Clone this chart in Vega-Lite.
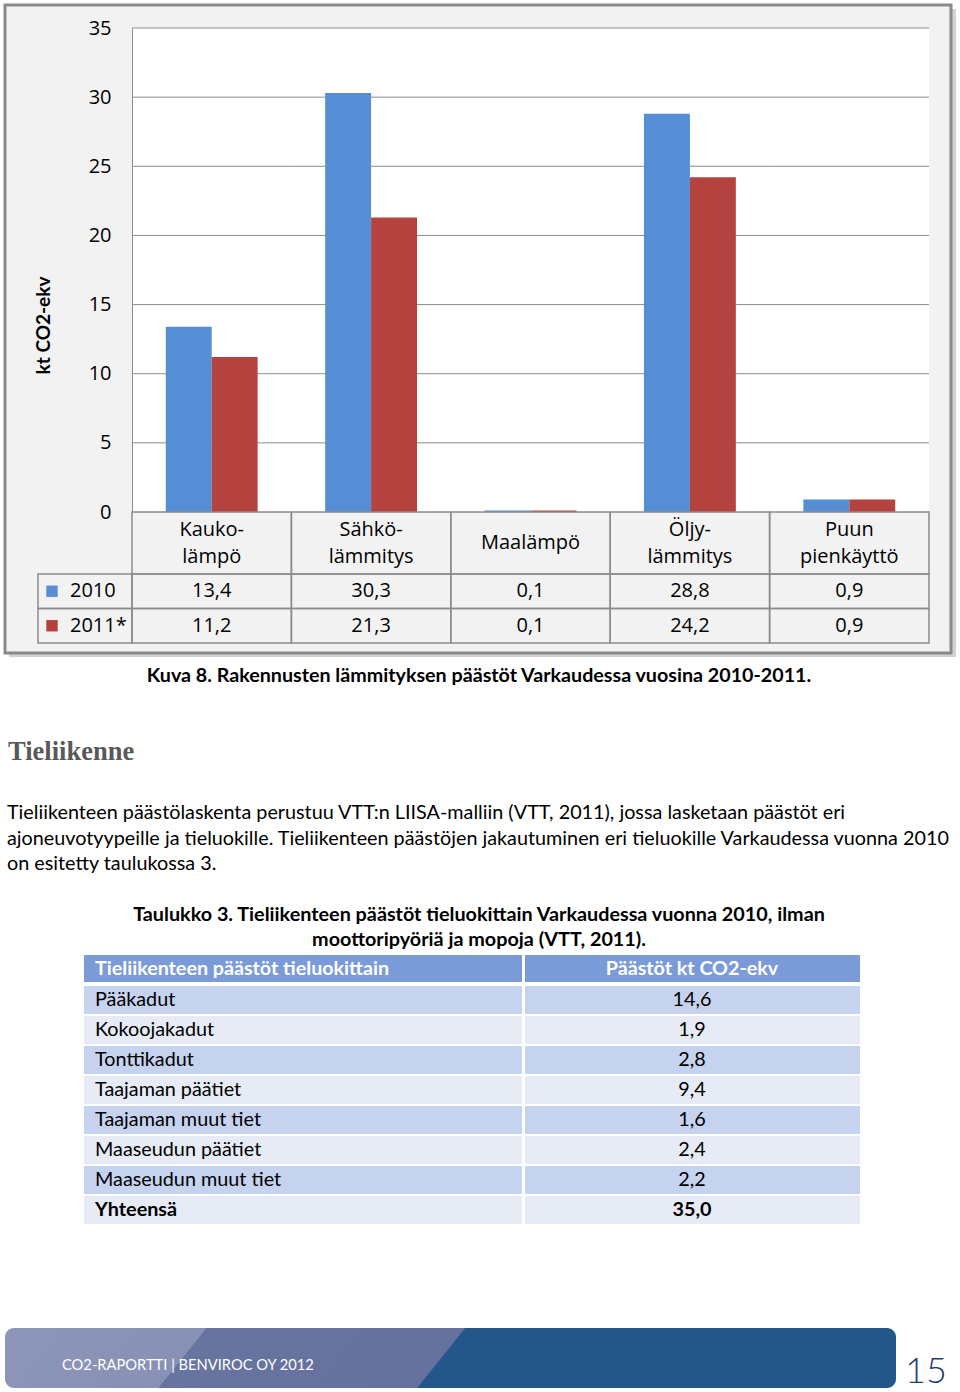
{
  "$schema": "https://vega.github.io/schema/vega-lite/v6.json",
  "width": 960,
  "height": 1392,
  "padding": 0,
  "autosize": {"type": "none"},
  "background": "white",
  "config": {
    "view": {"stroke": null},
    "locale": {"number": {"decimal": ",", "thousands": " ", "grouping": [3], "currency": ["", " €"]}}
  },
  "datasets": {
    "heat": [
      {"cat": "Kauko-\nlämpö", "series": "2010", "value": 13.4},
      {"cat": "Kauko-\nlämpö", "series": "2011*", "value": 11.2},
      {"cat": "Sähkö-\nlämmitys", "series": "2010", "value": 30.3},
      {"cat": "Sähkö-\nlämmitys", "series": "2011*", "value": 21.3},
      {"cat": "Maalämpö", "series": "2010", "value": 0.1},
      {"cat": "Maalämpö", "series": "2011*", "value": 0.1},
      {"cat": "Öljy-\nlämmitys", "series": "2010", "value": 28.8},
      {"cat": "Öljy-\nlämmitys", "series": "2011*", "value": 24.2},
      {"cat": "Puun\npienkäyttö", "series": "2010", "value": 0.9},
      {"cat": "Puun\npienkäyttö", "series": "2011*", "value": 0.9}
    ],
    "series": [{"series": "2010"}, {"series": "2011*"}],
    "roads": [
      {"road": "Pääkadut", "value": 14.6},
      {"road": "Kokoojakadut", "value": 1.9},
      {"road": "Tonttikadut", "value": 2.8},
      {"road": "Taajaman päätiet", "value": 9.4},
      {"road": "Taajaman muut tiet", "value": 1.6},
      {"road": "Maaseudun päätiet", "value": 2.4},
      {"road": "Maaseudun muut tiet", "value": 2.2},
      {"road": "Yhteensä", "value": 35.0}
    ]
  },
  "resolve": {
    "scale": {"x": "independent", "y": "independent", "color": "independent", "xOffset": "independent"},
    "axis": {"x": "independent", "y": "independent"},
    "legend": {"color": "independent"}
  },
  "layer": [
    {
      "data": {"values": [{"box": "chart"}]},
      "mark": {"type": "rect", "fill": "#b4b4b4", "opacity": 0.6},
      "encoding": {
        "x": {"field": "box", "type": "nominal", "axis": null, "scale": {"type": "band", "range": [9, 956], "paddingInner": 0, "paddingOuter": 0}},
        "y": {"field": "box", "type": "nominal", "axis": null, "scale": {"type": "band", "range": [9, 657], "paddingInner": 0, "paddingOuter": 0}}
      }
    },
    {
      "data": {"values": [{"box": "chart"}]},
      "mark": {"type": "rect", "fill": "#f2f2f2", "stroke": "#8a8a8a", "strokeWidth": 3},
      "encoding": {
        "x": {"field": "box", "type": "nominal", "axis": null, "scale": {"type": "band", "range": [5, 951], "paddingInner": 0, "paddingOuter": 0}},
        "y": {"field": "box", "type": "nominal", "axis": null, "scale": {"type": "band", "range": [5, 653], "paddingInner": 0, "paddingOuter": 0}}
      }
    },
    {
      "data": {"name": "heat"},
      "mark": {"type": "rect", "fill": "white"},
      "encoding": {
        "x": {"field": "cat", "type": "nominal", "axis": null, "scale": {"type": "band", "domain": ["Kauko-\nlämpö", "Sähkö-\nlämmitys", "Maalämpö", "Öljy-\nlämmitys", "Puun\npienkäyttö"], "range": [132, 929], "paddingInner": 0, "paddingOuter": 0}},
        "y": {"datum": 0, "type": "quantitative", "axis": null, "scale": {"domain": [0, 35], "range": [512, 28], "nice": false}},
        "y2": {"datum": 35}
      }
    },
    {
      "data": {"values": [{"v": 5}, {"v": 10}, {"v": 15}, {"v": 20}, {"v": 25}, {"v": 30}, {"v": 35}]},
      "mark": {"type": "rule", "stroke": "#8c8c8c", "strokeWidth": 1},
      "encoding": {
        "y": {"field": "v", "type": "quantitative", "axis": null, "scale": {"domain": [0, 35], "range": [512, 28], "nice": false}},
        "x": {"datum": 0, "type": "quantitative", "axis": null, "scale": {"domain": [0, 1], "range": [132, 929]}},
        "x2": {"datum": 1}
      }
    },
    {
      "data": {"name": "heat"},
      "mark": {"type": "bar"},
      "encoding": {
        "x": {"field": "cat", "type": "nominal", "axis": null, "scale": {"type": "band", "domain": ["Kauko-\nlämpö", "Sähkö-\nlämmitys", "Maalämpö", "Öljy-\nlämmitys", "Puun\npienkäyttö"], "range": [132, 929], "paddingInner": 0, "paddingOuter": 0}},
        "xOffset": {"field": "series", "type": "nominal", "scale": {"domain": ["2010", "2011*"], "paddingInner": 0, "paddingOuter": 0.735}},
        "y": {
          "field": "value", "type": "quantitative",
          "scale": {"domain": [0, 35], "range": [512, 28], "nice": false},
          "axis": {
            "orient": "left", "offset": -132, "values": [0, 5, 10, 15, 20, 25, 30, 35], "zindex": 2,
            "ticks": false, "domain": true, "domainColor": "#8c8c8c", "domainWidth": 1, "grid": false,
            "labelPadding": 21, "labelFont": "Open Sans", "labelFontSize": 20, "labelColor": "#000000",
            "title": "kt CO2-ekv", "titleFont": "Lato", "titleFontSize": 19, "titleFontWeight": "bold", "titleColor": "#000000",
            "titleAngle": -90, "titleX": -89, "titleY": 325, "titleAlign": "center", "titleBaseline": "middle"
          }
        },
        "color": {"field": "series", "type": "nominal", "legend": null, "scale": {"domain": ["2010", "2011*"], "range": ["#558ed5", "#b4433f"]}}
      }
    },
    {
      "data": {"name": "heat"},
      "transform": [{"filter": "datum.series === '2010'"}],
      "mark": {"type": "rect", "fillOpacity": 0, "stroke": "#8c8c8c", "strokeWidth": 1.5},
      "encoding": {
        "x": {"field": "cat", "type": "nominal", "axis": null, "scale": {"type": "band", "domain": ["Kauko-\nlämpö", "Sähkö-\nlämmitys", "Maalämpö", "Öljy-\nlämmitys", "Puun\npienkäyttö"], "range": [132, 929], "paddingInner": 0, "paddingOuter": 0}},
        "y": {"datum": 0, "type": "quantitative", "axis": null, "scale": {"domain": [0, 1], "range": [512, 574]}},
        "y2": {"datum": 1}
      }
    },
    {
      "data": {"name": "heat"},
      "mark": {"type": "rect", "fillOpacity": 0, "stroke": "#8c8c8c", "strokeWidth": 1.5},
      "encoding": {
        "x": {"field": "cat", "type": "nominal", "axis": null, "scale": {"type": "band", "domain": ["Kauko-\nlämpö", "Sähkö-\nlämmitys", "Maalämpö", "Öljy-\nlämmitys", "Puun\npienkäyttö"], "range": [132, 929], "paddingInner": 0, "paddingOuter": 0}},
        "y": {"field": "series", "type": "nominal", "axis": null, "scale": {"type": "band", "domain": ["2010", "2011*"], "range": [574, 643], "paddingInner": 0, "paddingOuter": 0}}
      }
    },
    {
      "data": {"name": "series"},
      "mark": {"type": "rect", "fillOpacity": 0, "stroke": "#8c8c8c", "strokeWidth": 1.5},
      "encoding": {
        "x": {"datum": 0, "type": "quantitative", "axis": null, "scale": {"domain": [0, 1], "range": [38, 132]}},
        "x2": {"datum": 1},
        "y": {"field": "series", "type": "nominal", "axis": null, "scale": {"type": "band", "domain": ["2010", "2011*"], "range": [574, 643], "paddingInner": 0, "paddingOuter": 0}}
      }
    },
    {
      "data": {"name": "series"},
      "mark": {"type": "point", "shape": "square", "filled": true, "size": 130, "opacity": 1},
      "encoding": {
        "x": {"datum": 0, "type": "quantitative", "axis": null, "scale": {"domain": [0, 1], "range": [52, 53]}},
        "y": {"field": "series", "type": "nominal", "axis": null, "scale": {"type": "band", "domain": ["2010", "2011*"], "range": [574, 643], "paddingInner": 0, "paddingOuter": 0}},
        "color": {"field": "series", "type": "nominal", "legend": null, "scale": {"domain": ["2010", "2011*"], "range": ["#558ed5", "#b4433f"]}}
      }
    },
    {
      "data": {"name": "series"},
      "mark": {"type": "text", "font": "Open Sans", "fontSize": 20, "align": "left", "baseline": "middle", "color": "#000000"},
      "encoding": {
        "text": {"field": "series"},
        "x": {"datum": 0, "type": "quantitative", "axis": null, "scale": {"domain": [0, 1], "range": [70, 71]}},
        "y": {"field": "series", "type": "nominal", "axis": null, "scale": {"type": "band", "domain": ["2010", "2011*"], "range": [574, 643], "paddingInner": 0, "paddingOuter": 0}}
      }
    },
    {
      "data": {"name": "heat"},
      "mark": {"type": "text", "font": "Open Sans", "fontSize": 20, "align": "center", "baseline": "middle", "color": "#000000"},
      "encoding": {
        "text": {"field": "value", "type": "quantitative", "format": ".1f"},
        "x": {"field": "cat", "type": "nominal", "axis": null, "scale": {"type": "band", "domain": ["Kauko-\nlämpö", "Sähkö-\nlämmitys", "Maalämpö", "Öljy-\nlämmitys", "Puun\npienkäyttö"], "range": [132, 929], "paddingInner": 0, "paddingOuter": 0}},
        "y": {"field": "series", "type": "nominal", "axis": null, "scale": {"type": "band", "domain": ["2010", "2011*"], "range": [574, 643], "paddingInner": 0, "paddingOuter": 0}}
      }
    },
    {
      "data": {"name": "heat"},
      "transform": [{"filter": "datum.series === '2010' && indexof(datum.cat, '\\n') >= 0"}],
      "mark": {"type": "text", "font": "Open Sans", "fontSize": 20, "align": "center", "baseline": "middle", "lineBreak": "\n", "lineHeight": 27, "color": "#000000"},
      "encoding": {
        "text": {"field": "cat"},
        "x": {"field": "cat", "type": "nominal", "axis": null, "scale": {"type": "band", "domain": ["Kauko-\nlämpö", "Sähkö-\nlämmitys", "Maalämpö", "Öljy-\nlämmitys", "Puun\npienkäyttö"], "range": [132, 929], "paddingInner": 0, "paddingOuter": 0}},
        "y": {"datum": 0, "type": "quantitative", "axis": null, "scale": {"domain": [0, 1], "range": [530, 531]}}
      }
    },
    {
      "data": {"name": "heat"},
      "transform": [{"filter": "datum.series === '2010' && indexof(datum.cat, '\\n') < 0"}],
      "mark": {"type": "text", "font": "Open Sans", "fontSize": 20, "align": "center", "baseline": "middle", "color": "#000000"},
      "encoding": {
        "text": {"field": "cat"},
        "x": {"field": "cat", "type": "nominal", "axis": null, "scale": {"type": "band", "domain": ["Kauko-\nlämpö", "Sähkö-\nlämmitys", "Maalämpö", "Öljy-\nlämmitys", "Puun\npienkäyttö"], "range": [132, 929], "paddingInner": 0, "paddingOuter": 0}},
        "y": {"datum": 0, "type": "quantitative", "axis": null, "scale": {"domain": [0, 1], "range": [543, 544]}}
      }
    },
    {
      "data": {"values": [{"text": "Kuva 8. Rakennusten lämmityksen päästöt Varkaudessa  vuosina 2010-2011."}]},
      "mark": {"type": "text", "font": "Lato", "fontSize": 19.7, "fontWeight": "bold", "align": "center", "baseline": "middle", "color": "#000000"},
      "encoding": {
        "text": {"field": "text"},
        "x": {"datum": 0, "type": "quantitative", "axis": null, "scale": {"domain": [0, 1], "range": [479, 480]}},
        "y": {"datum": 0, "type": "quantitative", "axis": null, "scale": {"domain": [0, 1], "range": [676, 677]}}
      }
    },
    {
      "data": {"values": [{"text": "Tieliikenne"}]},
      "mark": {"type": "text", "font": "Liberation Serif", "fontSize": 26.5, "fontWeight": "bold", "align": "left", "baseline": "middle", "color": "#595959"},
      "encoding": {
        "text": {"field": "text"},
        "x": {"datum": 0, "type": "quantitative", "axis": null, "scale": {"domain": [0, 1], "range": [8, 9]}},
        "y": {"datum": 0, "type": "quantitative", "axis": null, "scale": {"domain": [0, 1], "range": [752, 753]}}
      }
    },
    {
      "data": {"values": [
        {"line": 0, "text": "Tieliikenteen päästölaskenta perustuu VTT:n LIISA-malliin (VTT, 2011), jossa lasketaan päästöt eri"},
        {"line": 1, "text": "ajoneuvotyypeille ja tieluokille. Tieliikenteen päästöjen jakautuminen eri tieluokille Varkaudessa vuonna 2010"},
        {"line": 2, "text": "on esitetty taulukossa 3."}
      ]},
      "mark": {"type": "text", "font": "Lato", "fontSize": 19.8, "align": "left", "baseline": "middle", "color": "#000000"},
      "encoding": {
        "text": {"field": "text"},
        "x": {"datum": 0, "type": "quantitative", "axis": null, "scale": {"domain": [0, 1], "range": [7, 8]}},
        "y": {"field": "line", "type": "quantitative", "axis": null, "scale": {"domain": [0, 2], "range": [813, 864]}}
      }
    },
    {
      "data": {"values": [
        {"line": 0, "text": "Taulukko 3. Tieliikenteen päästöt tieluokittain Varkaudessa vuonna 2010, ilman"},
        {"line": 1, "text": "moottoripyöriä ja mopoja (VTT, 2011)."}
      ]},
      "mark": {"type": "text", "font": "Lato", "fontSize": 19.8, "fontWeight": "bold", "align": "center", "baseline": "middle", "color": "#000000"},
      "encoding": {
        "text": {"field": "text"},
        "x": {"datum": 0, "type": "quantitative", "axis": null, "scale": {"domain": [0, 1], "range": [479, 480]}},
        "y": {"field": "line", "type": "quantitative", "axis": null, "scale": {"domain": [0, 1], "range": [915, 940]}}
      }
    },
    {
      "data": {"values": [{"part": "header"}]},
      "mark": {"type": "rect", "fill": "#7b9bd8"},
      "encoding": {
        "x": {"datum": 0, "type": "quantitative", "axis": null, "scale": {"domain": [0, 1], "range": [84, 522]}},
        "x2": {"datum": 1},
        "y": {"datum": 0, "type": "quantitative", "axis": null, "scale": {"domain": [0, 1], "range": [955, 982]}},
        "y2": {"datum": 1}
      }
    },
    {
      "data": {"values": [{"part": "header"}]},
      "mark": {"type": "rect", "fill": "#7b9bd8"},
      "encoding": {
        "x": {"datum": 0, "type": "quantitative", "axis": null, "scale": {"domain": [0, 1], "range": [525, 860]}},
        "x2": {"datum": 1},
        "y": {"datum": 0, "type": "quantitative", "axis": null, "scale": {"domain": [0, 1], "range": [955, 982]}},
        "y2": {"datum": 1}
      }
    },
    {
      "data": {"name": "roads"},
      "mark": {"type": "rect"},
      "encoding": {
        "x": {"datum": 0, "type": "quantitative", "axis": null, "scale": {"domain": [0, 1], "range": [84, 522]}},
        "x2": {"datum": 1},
        "y": {"field": "road", "type": "nominal", "axis": null, "scale": {"type": "band", "domain": ["Pääkadut", "Kokoojakadut", "Tonttikadut", "Taajaman päätiet", "Taajaman muut tiet", "Maaseudun päätiet", "Maaseudun muut tiet", "Yhteensä"], "range": [986, 1224], "paddingInner": 0.07, "paddingOuter": 0}},
        "color": {"field": "road", "type": "nominal", "legend": null, "scale": {"domain": ["Pääkadut", "Kokoojakadut", "Tonttikadut", "Taajaman päätiet", "Taajaman muut tiet", "Maaseudun päätiet", "Maaseudun muut tiet", "Yhteensä"], "range": ["#c6d3ef", "#e6ebf6", "#c6d3ef", "#e6ebf6", "#c6d3ef", "#e6ebf6", "#c6d3ef", "#e6ebf6"]}}
      }
    },
    {
      "data": {"name": "roads"},
      "mark": {"type": "rect"},
      "encoding": {
        "x": {"datum": 0, "type": "quantitative", "axis": null, "scale": {"domain": [0, 1], "range": [525, 860]}},
        "x2": {"datum": 1},
        "y": {"field": "road", "type": "nominal", "axis": null, "scale": {"type": "band", "domain": ["Pääkadut", "Kokoojakadut", "Tonttikadut", "Taajaman päätiet", "Taajaman muut tiet", "Maaseudun päätiet", "Maaseudun muut tiet", "Yhteensä"], "range": [986, 1224], "paddingInner": 0.07, "paddingOuter": 0}},
        "color": {"field": "road", "type": "nominal", "legend": null, "scale": {"domain": ["Pääkadut", "Kokoojakadut", "Tonttikadut", "Taajaman päätiet", "Taajaman muut tiet", "Maaseudun päätiet", "Maaseudun muut tiet", "Yhteensä"], "range": ["#c6d3ef", "#e6ebf6", "#c6d3ef", "#e6ebf6", "#c6d3ef", "#e6ebf6", "#c6d3ef", "#e6ebf6"]}}
      }
    },
    {
      "data": {"values": [{"text": "Tieliikenteen päästöt tieluokittain"}]},
      "mark": {"type": "text", "font": "Lato", "fontSize": 19.7, "fontWeight": "bold", "align": "left", "baseline": "middle", "color": "#ffffff"},
      "encoding": {
        "text": {"field": "text"},
        "x": {"datum": 0, "type": "quantitative", "axis": null, "scale": {"domain": [0, 1], "range": [95, 96]}},
        "y": {"datum": 0, "type": "quantitative", "axis": null, "scale": {"domain": [0, 1], "range": [969, 970]}}
      }
    },
    {
      "data": {"values": [{"text": "Päästöt kt CO2-ekv"}]},
      "mark": {"type": "text", "font": "Lato", "fontSize": 19.7, "fontWeight": "bold", "align": "center", "baseline": "middle", "color": "#ffffff"},
      "encoding": {
        "text": {"field": "text"},
        "x": {"datum": 0, "type": "quantitative", "axis": null, "scale": {"domain": [0, 1], "range": [692, 693]}},
        "y": {"datum": 0, "type": "quantitative", "axis": null, "scale": {"domain": [0, 1], "range": [969, 970]}}
      }
    },
    {
      "data": {"name": "roads"},
      "transform": [{"filter": "datum.road !== 'Yhteensä'"}],
      "mark": {"type": "text", "font": "Lato", "fontSize": 19.8, "align": "left", "baseline": "middle", "color": "#000000"},
      "encoding": {
        "text": {"field": "road"},
        "x": {"datum": 0, "type": "quantitative", "axis": null, "scale": {"domain": [0, 1], "range": [95, 96]}},
        "y": {"field": "road", "type": "nominal", "axis": null, "scale": {"type": "band", "domain": ["Pääkadut", "Kokoojakadut", "Tonttikadut", "Taajaman päätiet", "Taajaman muut tiet", "Maaseudun päätiet", "Maaseudun muut tiet", "Yhteensä"], "range": [986, 1224], "paddingInner": 0.07, "paddingOuter": 0}}
      }
    },
    {
      "data": {"name": "roads"},
      "transform": [{"filter": "datum.road === 'Yhteensä'"}],
      "mark": {"type": "text", "font": "Lato", "fontSize": 19.8, "fontWeight": "bold", "align": "left", "baseline": "middle", "color": "#000000"},
      "encoding": {
        "text": {"field": "road"},
        "x": {"datum": 0, "type": "quantitative", "axis": null, "scale": {"domain": [0, 1], "range": [95, 96]}},
        "y": {"field": "road", "type": "nominal", "axis": null, "scale": {"type": "band", "domain": ["Pääkadut", "Kokoojakadut", "Tonttikadut", "Taajaman päätiet", "Taajaman muut tiet", "Maaseudun päätiet", "Maaseudun muut tiet", "Yhteensä"], "range": [986, 1224], "paddingInner": 0.07, "paddingOuter": 0}}
      }
    },
    {
      "data": {"name": "roads"},
      "transform": [{"filter": "datum.road !== 'Yhteensä'"}],
      "mark": {"type": "text", "font": "Lato", "fontSize": 19.8, "align": "center", "baseline": "middle", "color": "#000000"},
      "encoding": {
        "text": {"field": "value", "type": "quantitative", "format": ".1f"},
        "x": {"datum": 0, "type": "quantitative", "axis": null, "scale": {"domain": [0, 1], "range": [692, 693]}},
        "y": {"field": "road", "type": "nominal", "axis": null, "scale": {"type": "band", "domain": ["Pääkadut", "Kokoojakadut", "Tonttikadut", "Taajaman päätiet", "Taajaman muut tiet", "Maaseudun päätiet", "Maaseudun muut tiet", "Yhteensä"], "range": [986, 1224], "paddingInner": 0.07, "paddingOuter": 0}}
      }
    },
    {
      "data": {"name": "roads"},
      "transform": [{"filter": "datum.road === 'Yhteensä'"}],
      "mark": {"type": "text", "font": "Lato", "fontSize": 19.8, "fontWeight": "bold", "align": "center", "baseline": "middle", "color": "#000000"},
      "encoding": {
        "text": {"field": "value", "type": "quantitative", "format": ".1f"},
        "x": {"datum": 0, "type": "quantitative", "axis": null, "scale": {"domain": [0, 1], "range": [692, 693]}},
        "y": {"field": "road", "type": "nominal", "axis": null, "scale": {"type": "band", "domain": ["Pääkadut", "Kokoojakadut", "Tonttikadut", "Taajaman päätiet", "Taajaman muut tiet", "Maaseudun päätiet", "Maaseudun muut tiet", "Yhteensä"], "range": [986, 1224], "paddingInner": 0.07, "paddingOuter": 0}}
      }
    },
    {
      "data": {"values": [{"part": "footer"}]},
      "mark": {"type": "rect", "cornerRadius": 9, "fill": {"gradient": "linear", "x1": 0, "y1": 0, "x2": 1, "y2": 0.054, "stops": [
        {"offset": 0, "color": "#8d95b9"}, {"offset": 0.225, "color": "#8891b5"}, {"offset": 0.226, "color": "#67749f"}, {"offset": 0.514, "color": "#65729d"}, {"offset": 0.516, "color": "#23578a"}, {"offset": 1, "color": "#23578a"}
      ]}},
      "encoding": {
        "x": {"datum": 0, "type": "quantitative", "axis": null, "scale": {"domain": [0, 1], "range": [5, 896]}},
        "x2": {"datum": 1},
        "y": {"datum": 0, "type": "quantitative", "axis": null, "scale": {"domain": [0, 1], "range": [1328, 1388]}},
        "y2": {"datum": 1}
      }
    },
    {
      "data": {"values": [{"text": "CO2-RAPORTTI | BENVIROC OY 2012"}]},
      "mark": {"type": "text", "font": "Lato", "fontSize": 14.7, "align": "left", "baseline": "middle", "color": "#ffffff"},
      "encoding": {
        "text": {"field": "text"},
        "x": {"datum": 0, "type": "quantitative", "axis": null, "scale": {"domain": [0, 1], "range": [62, 63]}},
        "y": {"datum": 0, "type": "quantitative", "axis": null, "scale": {"domain": [0, 1], "range": [1366, 1367]}}
      }
    },
    {
      "data": {"values": [{"text": "15"}]},
      "mark": {"type": "text", "font": "Lato", "fontSize": 36, "fontWeight": 300, "align": "left", "baseline": "bottom", "color": "#1f3a68"},
      "encoding": {
        "text": {"field": "text"},
        "x": {"datum": 0, "type": "quantitative", "axis": null, "scale": {"domain": [0, 1], "range": [905, 906]}},
        "y": {"datum": 0, "type": "quantitative", "axis": null, "scale": {"domain": [0, 1], "range": [1391, 1392]}}
      }
    }
  ]
}
